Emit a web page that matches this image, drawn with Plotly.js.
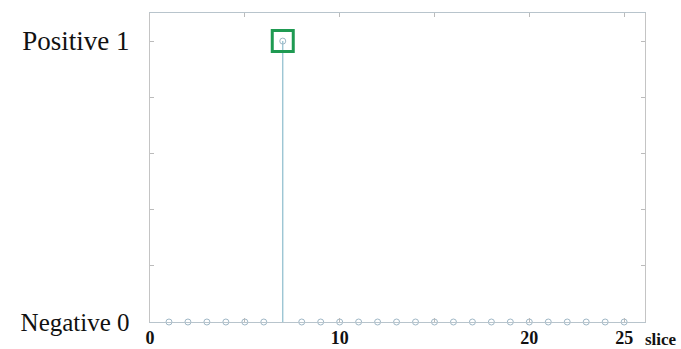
<!DOCTYPE html>
<html>
<head>
<meta charset="utf-8">
<script src="https://cdn.plot.ly/plotly-3.0.1.min.js"></script>
<style>html,body{margin:0;padding:0;background:#fff;}#chart{width:681px;height:349px;}</style>
</head>
<body>
<div id="chart"></div>
<script>
var slices = [1,2,3,4,5,6,7,8,9,10,11,12,13,14,15,16,17,18,19,20,21,22,23,24,25];
var labels = [0,0,0,0,0,0,1,0,0,0,0,0,0,0,0,0,0,0,0,0,0,0,0,0,0];
var yTickVals = [0,0.2,0.4,0.6,0.8,1];
var yTickText = ['<span style="font-size:25px">Negative 0</span>','','','','','<span style="font-size:27px">Positive 1</span>'];
var xTickVals = [0,5,10,15,20,25];
var xTickText = ['0','','10','','20','25'];

var peakX = [], peakY = [];
for (var i = 0; i < slices.length; i++) { if (labels[i] === 1) { peakX.push(slices[i]); peakY.push(labels[i]); } }

var serif = 'Times New Roman, Liberation Serif, DejaVu Serif, serif';

var traces = [
  {
    x: slices, y: labels, type: 'scatter', mode: 'markers',
    marker: {symbol: 'circle-open', size: 6, color: '#9fb7c6', line: {width: 1}},
    error_y: {type: 'data', symmetric: false, array: labels.map(function(){return 0;}), arrayminus: labels, width: 0, thickness: 1.2, color: '#8cbccc'},
    cliponaxis: false, showlegend: false, hoverinfo: 'skip'
  },
  {
    x: peakX, y: peakY, type: 'scatter', mode: 'markers',
    marker: {symbol: 'square-open', size: 21, color: '#1f9a52', line: {width: 3}},
    cliponaxis: false, showlegend: false, hoverinfo: 'skip'
  }
];

var layout = {
  width: 681, height: 349,
  margin: {l: 150, r: 36, t: 13, b: 27},
  paper_bgcolor: '#fff', plot_bgcolor: '#fff',
  showlegend: false,
  xaxis: {
    range: [0, 26.1], tickmode: 'array', tickvals: xTickVals, ticktext: xTickText,
    ticks: 'inside', ticklen: 4, tickcolor: '#bbbbbb', showgrid: false, zeroline: false,
    showline: true, linecolor: '#b8c4cc', linewidth: 1.2, mirror: 'ticks',
    tickfont: {family: serif, size: 18, color: '#111', weight: 'bold'}, ticklabelstandoff: -1
  },
  yaxis: {
    range: [0, 1.1], tickmode: 'array', tickvals: yTickVals, ticktext: yTickText,
    ticks: 'inside', ticklen: 4, tickcolor: '#bbbbbb', showgrid: false, zeroline: false,
    showline: true, linecolor: '#c4c4c4', linewidth: 1.2, mirror: 'ticks',
    tickfont: {family: serif, size: 26, color: '#111'}, ticklabelstandoff: 14
  },
  annotations: [
    {xref: 'paper', yref: 'paper', x: 1, y: 0, xanchor: 'left', yanchor: 'top', xshift: -2, yshift: -6,
     text: 'slice', showarrow: false, font: {family: serif, size: 17, color: '#111', weight: 'bold'}}
  ]
};

Plotly.newPlot('chart', traces, layout, {displayModeBar: false, staticPlot: true});
</script>
</body>
</html>
